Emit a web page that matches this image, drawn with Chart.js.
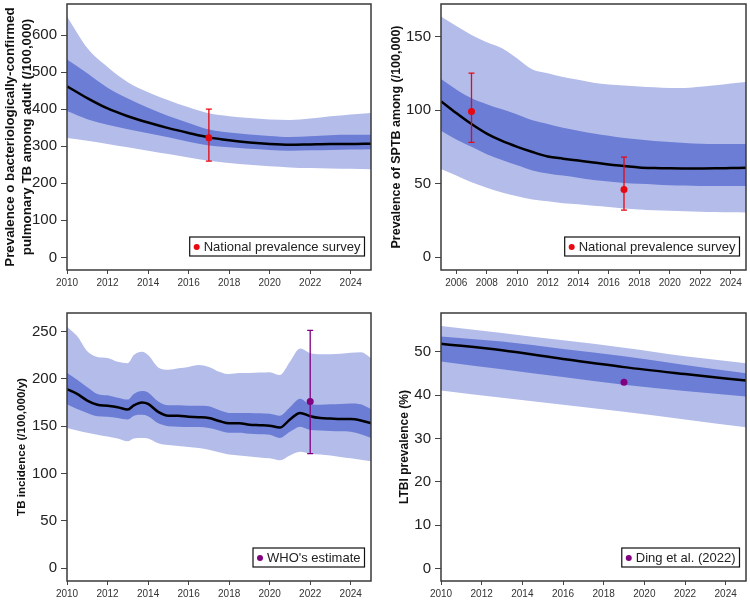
<!DOCTYPE html>
<html>
<head>
<meta charset="utf-8">
<script src="https://cdn.jsdelivr.net/npm/chart.js@4.4.1/dist/chart.umd.min.js"></script>
<style>
  body { margin: 0; background: #fff; }
  .panel { position: absolute; }
</style>
</head>
<body>
<div class="panel" style="left:0;top:0"><canvas id="c1" width="375" height="300"></canvas></div>
<div class="panel" style="left:375px;top:0"><canvas id="c2" width="375" height="300"></canvas></div>
<div class="panel" style="left:0;top:300px"><canvas id="c3" width="375" height="302"></canvas></div>
<div class="panel" style="left:375px;top:300px"><canvas id="c4" width="375" height="302"></canvas></div>
<script>
// Panel 1 - prevalence of bacteriologically-confirmed PTB
const prevYears = [2010, 2011, 2012, 2013, 2014, 2015, 2016, 2017, 2018, 2019, 2020, 2021, 2022, 2023, 2024, 2025];
const prevMid     = [462, 430, 402, 381, 364, 349, 336, 324, 316, 310, 306, 304, 305, 306, 306, 307];
const prevDarkHi  = [534, 497, 458, 429, 404, 382, 363, 345, 337, 332, 328, 325, 327, 330, 331, 331];
const prevDarkLo  = [395, 373, 358, 346, 335, 324, 312, 302, 297, 293, 290, 288, 289, 290, 291, 292];
const prevLightHi = [650, 565, 514, 473, 446, 424, 405, 389, 381, 376, 372, 371, 375, 381, 386, 390];
const prevLightLo = [322, 315, 306, 297, 288, 279, 270, 261, 255, 250, 246, 243, 241, 240, 239, 238];
const prevSurveyYears = [2017];
const prevSurvey      = [323];
const prevSurveyLo    = [260];
const prevSurveyHi    = [400];
const prevXTicks = [2010, 2012, 2014, 2016, 2018, 2020, 2022, 2024];
const prevYTicks = [0, 100, 200, 300, 400, 500, 600];

// Panel 2 - prevalence of SPTB
const sptbYears = [2005, 2006, 2007, 2008, 2009, 2010, 2011, 2012, 2013, 2014, 2015,
                   2016, 2017, 2018, 2019, 2020, 2021, 2022, 2023, 2024, 2025];
const sptbMid     = [106, 98, 90.5, 84, 79, 75, 71.5, 68.5, 67, 65.7, 64.4, 63, 62, 61, 60.6, 60.4, 60.3, 60.3, 60.4, 60.6, 60.8];
const sptbDarkHi  = [121, 114, 108, 104, 100.5, 97, 93, 90.5, 88, 86, 84, 82.5, 81, 80, 79, 78.3, 77.7, 77.2, 77, 77, 77];
const sptbDarkLo  = [86, 80, 75, 70, 66, 62.5, 59, 57, 55.5, 54, 52.5, 51.5, 50.5, 50, 49.5, 49, 48.7, 48.5, 48.5, 48.5, 48.5];
const sptbLightHi = [163.5, 157, 151, 146, 142, 135, 127.5, 125, 122.5, 120.5, 118.5, 117.3, 116.7, 116, 115.5, 115, 115, 115.8, 116.8, 118, 119];
const sptbLightLo = [60, 55.5, 51, 47.3, 44, 41.4, 39.3, 38, 36.8, 36, 35, 34.2, 33.2, 32.5, 32, 31.6, 31.3, 31, 30.8, 30.6, 30.5];
const sptbSurveyYears = [2007, 2017];
const sptbSurvey      = [99, 46];
const sptbSurveyLo    = [78, 32];
const sptbSurveyHi    = [125, 68];
const sptbXTicks = [2006, 2008, 2010, 2012, 2014, 2016, 2018, 2020, 2022, 2024];
const sptbYTicks = [0, 50, 100, 150];

// Panel 3 - TB incidence
const incYears = [2010, 2010.5, 2011, 2011.5, 2012, 2012.5, 2013, 2013.3, 2013.7, 2014, 2014.5, 2015, 2015.5, 2016,
                  2016.5, 2017, 2017.5, 2018, 2018.5, 2019, 2019.5, 2020, 2020.5, 2021, 2021.5, 2022, 2022.5,
                  2023, 2023.5, 2024, 2024.5, 2025];
const incMid     = [189, 184, 177, 172.5, 171.5, 170, 167.5, 172, 175, 173.5, 165, 161, 161, 160, 159.5, 158.5,
                    155.5, 153, 153, 151.5, 151, 150.5, 148.5, 157, 164, 160.5, 158.5, 158, 157.5, 157.5, 156, 153];
const incDarkHi  = [206, 199, 191, 184, 182.5, 180, 178, 184, 187, 185.5, 176, 172, 172, 171.5, 171.5, 171,
                    167, 164, 164, 164, 163.5, 163, 161, 170, 179, 173, 172.5, 173, 173.5, 174, 173, 168];
const incDarkLo  = [173, 168, 164, 160.5, 160, 158.5, 157, 161, 162, 160.5, 153, 150, 149.5, 149, 149, 148,
                    145.5, 143, 143, 142, 141.5, 141, 137.5, 144, 149.5, 146, 145.5, 145, 144.5, 144, 141.5, 137.5];
const incLightHi = [255, 245, 229, 223, 222, 218, 216.5, 225, 228.5, 225, 212, 209.5, 211, 212.5, 214.5, 212.5,
                    207.5, 205, 206, 206, 206.5, 207, 204, 218, 232, 227, 226, 226, 226.5, 227.5, 228, 222];
const incLightLo = [148, 145.5, 143, 141, 139, 137, 134, 137, 137.5, 137, 132, 130, 129, 128, 127, 125,
                    122.5, 120, 119, 118, 117, 116, 114, 119, 123, 121, 120, 119, 117.5, 116, 114.5, 113];
const whoYears = [2022];
const whoEst   = [176];
const whoLo    = [121];
const whoHi    = [251];
const incXTicks = [2010, 2012, 2014, 2016, 2018, 2020, 2022, 2024];
const incYTicks = [0, 50, 100, 150, 200, 250];

// Panel 4 - LTBI prevalence
const ltbiYears   = [2010, 2013, 2016, 2019, 2022, 2025];
const ltbiMid     = [51.9, 50.4, 48.4, 46.5, 44.9, 43.4];
const ltbiDarkHi  = [53.6, 52.4, 50.7, 49, 47, 45.1];
const ltbiDarkLo  = [47.8, 46, 44.2, 42.4, 41, 39.7];
const ltbiLightHi = [56, 54.4, 52.7, 51, 49, 47.4];
const ltbiLightLo = [41.1, 39.4, 37.8, 36.2, 34.4, 32.6];
const dingYears = [2019];
const dingEst   = [43];
const ltbiXTicks = [2010, 2012, 2014, 2016, 2018, 2020, 2022, 2024];
const ltbiYTicks = [0, 10, 20, 30, 40, 50];

const FONT = "'Liberation Sans', Arial, sans-serif";
const LIGHT = 'rgb(180, 188, 234)';
const DARK = 'rgb(107, 125, 213)';
const RED = 'rgb(232, 8, 16)';
const PURPLE = 'rgb(128, 0, 128)';

function pts(xs, ys) {
    return xs.map((x, i) => ({ x: x, y: ys[i] }));
}

// error bars, frame and the boxed legend inside the plot
const extras = {
    id: 'extras',
    beforeDatasetDraw(chart, args, opts) {
        if (args.index !== 5 || !opts.lo) return;
        const { ctx, scales: { x, y } } = chart;
        ctx.save();
        ctx.strokeStyle = opts.color;
        ctx.lineWidth = 1.3;
        opts.xs.forEach((v, i) => {
            const px = x.getPixelForValue(v);
            const lo = y.getPixelForValue(opts.lo[i]);
            const hi = y.getPixelForValue(opts.hi[i]);
            ctx.beginPath();
            ctx.moveTo(px, lo); ctx.lineTo(px, hi);
            ctx.moveTo(px - 3, lo); ctx.lineTo(px + 3, lo);
            ctx.moveTo(px - 3, hi); ctx.lineTo(px + 3, hi);
            ctx.stroke();
        });
        ctx.restore();
    },
    afterDraw(chart, args, opts) {
        const { ctx, chartArea: a } = chart;
        ctx.save();
        ctx.strokeStyle = '#3a3a3a';
        ctx.lineWidth = 1.5;
        ctx.strokeRect(a.left, a.top, a.width, a.height);

        // legend box
        const ds = chart.data.datasets[5];
        ctx.font = '13px ' + FONT;
        const tw = ctx.measureText(ds.label).width;
        const w = tw + 18, h = 19;
        const bx = a.right - 6.5 - w, by = a.bottom - 14 - h;
        ctx.fillStyle = '#fff';
        ctx.fillRect(bx, by, w, h);
        ctx.strokeStyle = '#111';
        ctx.lineWidth = 1.2;
        ctx.strokeRect(bx, by, w, h);
        ctx.fillStyle = ds.pointBackgroundColor;
        ctx.beginPath();
        ctx.arc(bx + 7, by + h / 2 + 0.5, 3, 0, Math.PI * 2);
        ctx.fill();
        ctx.fillStyle = '#222';
        ctx.textBaseline = 'middle';
        ctx.fillText(ds.label, bx + 14, by + h / 2 + 0.5);
        ctx.restore();
    }
};

function makeChart(id, p) {
    const ctx = document.getElementById(id).getContext('2d');
    return new Chart(ctx, {
        type: 'line',
        data: {
            datasets: [
                { label: 'light hi', data: pts(p.xs, p.lightHi), fill: '+1', backgroundColor: LIGHT,
                  borderColor: 'transparent', borderWidth: 0, pointRadius: 0, order: 3 },
                { label: 'light lo', data: pts(p.xs, p.lightLo), fill: false,
                  borderColor: 'transparent', borderWidth: 0, pointRadius: 0, order: 3 },
                { label: 'dark hi', data: pts(p.xs, p.darkHi), fill: '+1', backgroundColor: DARK,
                  borderColor: 'transparent', borderWidth: 0, pointRadius: 0, order: 2 },
                { label: 'dark lo', data: pts(p.xs, p.darkLo), fill: false,
                  borderColor: 'transparent', borderWidth: 0, pointRadius: 0, order: 2 },
                { label: 'median', data: pts(p.xs, p.mid), fill: false, borderColor: '#000',
                  borderWidth: 2.5, pointRadius: 0, order: 1 },
                { label: p.pointLabel, data: pts(p.pointXs, p.pointYs), showLine: false,
                  pointRadius: 3.5, pointBorderWidth: 0, pointBackgroundColor: p.pointColor, order: 0 }
            ]
        },
        options: {
            responsive: false,
            animation: false,
            events: [],
            layout: { padding: { top: p.padTop, right: p.padRight, left: 0, bottom: 0 } },
            elements: { line: { cubicInterpolationMode: 'monotone' } },
            scales: {
                x: {
                    type: 'linear',
                    min: p.xMin, max: p.xMax,
                    afterBuildTicks: s => { s.ticks = p.xTicks.map(v => ({ value: v })); },
                    afterFit: s => { s.height = p.xHeight; s.paddingLeft = 0; s.paddingRight = 0; },
                    ticks: { font: { family: FONT, size: 10 }, color: '#333', padding: 3,
                             maxRotation: 0, autoSkip: false, callback: v => String(v) },
                    grid: { drawOnChartArea: false, tickLength: 4, color: '#444' },
                    border: { display: false }
                },
                y: {
                    min: p.yMin, max: p.yMax,
                    afterBuildTicks: s => { s.ticks = p.yTicks.map(v => ({ value: v })); },
                    afterFit: s => { s.width = p.yWidth; s.paddingTop = 0; s.paddingBottom = 0; },
                    ticks: { font: { family: FONT, size: 15 }, color: '#222', padding: 4,
                             callback: v => String(v) },
                    grid: { drawOnChartArea: false, tickLength: 6, color: '#444' },
                    border: { display: false },
                    title: { display: true, text: p.title, color: '#111',
                             font: { family: FONT, size: p.titleSize, weight: 'bold', lineHeight: p.titleLH },
                             padding: { top: p.titlePad, bottom: 0 } }
                }
            },
            plugins: {
                legend: { display: false },
                tooltip: { enabled: false },
                extras: { xs: p.pointXs, lo: p.errLo, hi: p.errHi, color: p.pointColor }
            }
        },
        plugins: [extras]
    });
}

makeChart('c1', {
    xs: prevYears, mid: prevMid, darkHi: prevDarkHi, darkLo: prevDarkLo, lightHi: prevLightHi, lightLo: prevLightLo,
    pointXs: prevSurveyYears, pointYs: prevSurvey, errLo: prevSurveyLo, errHi: prevSurveyHi,
    pointLabel: 'National prevalence survey', pointColor: RED,
    xMin: 2010, xMax: 2025, xTicks: prevXTicks, yMin: -34, yMax: 684, yTicks: prevYTicks,
    title: ['Prevalence o bacteriologically-confirmed', 'pulmonary TB among adult (/100,000)'],
    titleSize: 13.3, titleLH: 1.28, titlePad: 1.5,
    padTop: 2, padRight: 2, xHeight: 30, yWidth: 67
});

makeChart('c2', {
    xs: sptbYears, mid: sptbMid, darkHi: sptbDarkHi, darkLo: sptbDarkLo, lightHi: sptbLightHi, lightLo: sptbLightLo,
    pointXs: sptbSurveyYears, pointYs: sptbSurvey, errLo: sptbSurveyLo, errHi: sptbSurveyHi,
    pointLabel: 'National prevalence survey', pointColor: RED,
    xMin: 2005, xMax: 2025, xTicks: sptbXTicks, yMin: -8.6, yMax: 172, yTicks: sptbYTicks,
    title: 'Prevalence of SPTB among (/100,000)',
    titleSize: 12.5, titleLH: 1.4, titlePad: 13.2,
    padTop: 2, padRight: 3, xHeight: 30, yWidth: 66
});

makeChart('c3', {
    xs: incYears, mid: incMid, darkHi: incDarkHi, darkLo: incDarkLo, lightHi: incLightHi, lightLo: incLightLo,
    pointXs: whoYears, pointYs: whoEst, errLo: whoLo, errHi: whoHi,
    pointLabel: "WHO's estimate", pointColor: PURPLE,
    xMin: 2010, xMax: 2025, xTicks: incXTicks, yMin: -13.4, yMax: 269.4, yTicks: incYTicks,
    title: 'TB incidence (/100,000/y)',
    titleSize: 11.6, titleLH: 1.2, titlePad: 15,
    padTop: 13, padRight: 2, xHeight: 21, yWidth: 67
});

makeChart('c4', {
    xs: ltbiYears, mid: ltbiMid, darkHi: ltbiDarkHi, darkLo: ltbiDarkLo, lightHi: ltbiLightHi, lightLo: ltbiLightLo,
    pointXs: dingYears, pointYs: dingEst, errLo: null, errHi: null,
    pointLabel: 'Ding et al. (2022)', pointColor: PURPLE,
    xMin: 2010, xMax: 2025, xTicks: ltbiXTicks, yMin: -2.9, yMax: 59, yTicks: ltbiYTicks,
    title: 'LTBI prevalence (%)',
    titleSize: 12, titleLH: 1.2, titlePad: 22.8,
    padTop: 13, padRight: 3, xHeight: 21, yWidth: 66
});
</script>
</body>
</html>
